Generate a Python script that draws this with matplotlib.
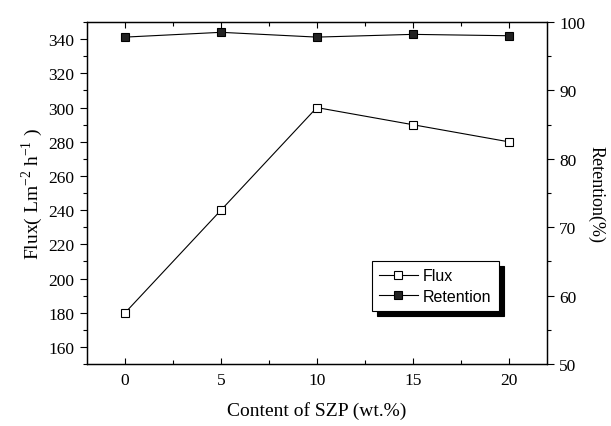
import matplotlib
matplotlib.use("Agg")
import matplotlib.pyplot as plt
from matplotlib.patches import Shadow
from matplotlib.ticker import MultipleLocator

# SZP content (wt.%)
szp_content = [0, 5, 10, 15, 20]
# membrane flux (L m-2 h-1)
flux = [180, 240, 300, 290, 280]
# retention (%)
retention = [97.8, 98.5, 97.8, 98.2, 98.0]

plt.rcParams["font.family"] = ["Liberation Serif", "DejaVu Serif"]
plt.rcParams["mathtext.fontset"] = "custom"
plt.rcParams["mathtext.rm"] = "Liberation Serif"

fig = plt.figure(figsize=(6.11, 4.27), dpi=100)
ax = fig.add_axes([0.142, 0.145, 0.753, 0.801])
ax2 = ax.twinx()

(l1,) = ax.plot(
    szp_content, flux, color="black", lw=0.8, marker="s", ms=5.5,
    markerfacecolor="white", markeredgecolor="black", mew=0.8, label="Flux",
)
(l2,) = ax2.plot(
    szp_content, retention, color="black", lw=0.8, marker="s", ms=5.5,
    markerfacecolor="#222222", markeredgecolor="black", mew=0.8, label="Retention",
)

ax.set_xlim(-2, 22)
ax.set_ylim(150, 350)
ax2.set_ylim(50, 100)

ax.xaxis.set_major_locator(MultipleLocator(5))
ax.xaxis.set_minor_locator(MultipleLocator(2.5))
ax.yaxis.set_minor_locator(MultipleLocator(10))
ax2.yaxis.set_major_locator(MultipleLocator(10))
ax2.yaxis.set_minor_locator(MultipleLocator(5))
ax.set_yticks(range(160, 341, 20))

for a in (ax, ax2):
    a.tick_params(which="major", direction="out", length=5, width=0.8,
                  labelsize=12.5, pad=4)
    a.tick_params(which="minor", direction="out", length=3, width=0.8)
    for s in a.spines.values():
        s.set_linewidth(0.9)
ax.tick_params(axis="x", which="both", top=True, direction="in")
ax.tick_params(axis="x", which="major", length=4, pad=6)
ax.tick_params(axis="x", which="minor", length=3)

ax.set_xlabel("Content of SZP (wt.%)", fontsize=14, labelpad=9)
ax.set_ylabel("Flux( Lm$^{-2}$ h$^{-1}$ )", fontsize=14, labelpad=2)
ax2.set_ylabel("Retention(%)", fontsize=13, rotation=270, labelpad=14)

# legend sits on the twin axes so it is drawn above both lines
leg = ax2.legend(
    handles=[l1, l2], loc="lower left", bbox_to_anchor=(0.62, 0.155),
    borderaxespad=0, fancybox=False, edgecolor="black", framealpha=1,
    handlelength=2.4, handletextpad=0.35, borderpad=0.45, labelspacing=0.35,
    prop={"family": "Liberation Sans", "size": 11.5},
)
leg.get_frame().set_linewidth(0.8)

# heavier drop shadow than the built-in one
fig.canvas.draw()
shadow = Shadow(leg.legendPatch, 3.6, -3.6, facecolor="black", edgecolor="black", alpha=1)
shadow.set_zorder(leg.get_zorder() - 0.1)
ax2.add_artist(shadow)

fig.savefig("out.png", dpi=100)
